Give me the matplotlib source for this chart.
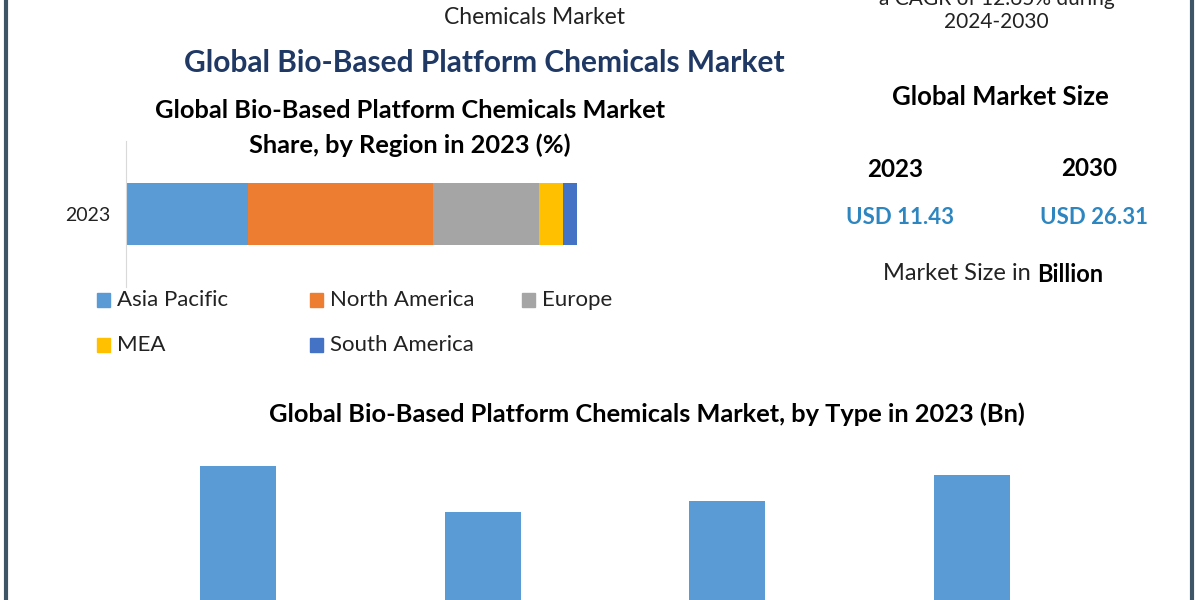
import matplotlib.pyplot as plt
from matplotlib.patches import Rectangle

# region share 2023 (%)
regions = ['Asia Pacific', 'North America', 'Europe', 'MEA', 'South America']
region_share = [27.1, 41.0, 23.5, 5.3, 3.1]
region_colors = ['#5b9bd5', '#ed7d31', '#a5a5a5', '#ffc000', '#4472c4']

# market by type 2023 (Bn) - category names cut off in the picture
type_values = [3.16, 2.54, 2.69, 3.04]

size_years = ['2023', '2030']
size_values = [11.43, 26.31]

W, H = 1200, 600
plt.rcParams['font.family'] = ['Lato', 'DejaVu Sans']

fig = plt.figure(figsize=(12, 6), dpi=100)
fig.patch.set_facecolor('white')


def fx(x):
    return x / W


def fy(y):
    return 1 - y / H


def txt(x, y, s, **kw):
    fig.text(fx(x), fy(y), s, ha='center', va='center', **kw)


# frame lines on the sides
fig.add_artist(plt.Line2D([fx(5.5), fx(5.5)], [0, 1], color='#3d5566', lw=3))
fig.add_artist(plt.Line2D([fx(1191.5), fx(1191.5)], [0, 1], color='#3d5566', lw=3))

# header texts (partly cut at the top, as in the source)
txt(997, -1, 'a CAGR of 12.65% during', fontsize=15, color='#222222')
txt(996, 22, '2024-2030', fontsize=15, color='#222222')
txt(535, 17, 'Chemicals Market', fontsize=16.5, color='#222222')
txt(484, 63, 'Global Bio-Based Platform Chemicals Market', fontsize=21.5,
    fontweight='bold', color='#1f3864')

# stacked bar by region
txt(410, 110, 'Global Bio-Based Platform Chemicals Market', fontsize=18.3,
    fontweight='bold', color='black')
txt(410, 145, 'Share, by Region in 2023 (%)', fontsize=18.3,
    fontweight='bold', color='black')

ax1 = fig.add_axes([fx(126), fy(287), fx(620 - 126), (287 - 141) / H])
left = 0
for name, val, col in zip(regions, region_share, region_colors):
    ax1.barh([0], [val], left=left, height=0.425, color=col, label=name)
    left += val
ax1.set_xlim(0, (620 - 126) / 4.51)
ax1.set_ylim(-0.5, 0.5)
ax1.set_xticks([])
ax1.set_yticks([0], ['2023'], fontsize=14)
ax1.tick_params(axis='y', length=0, pad=11, labelcolor='#222222')
for s in ['top', 'right', 'bottom']:
    ax1.spines[s].set_visible(False)
ax1.spines['left'].set_color('#d9d9d9')
ax1.patch.set_alpha(0)

# legend drawn by hand to keep the even column spacing
leg_pos = [(97, 300), (310, 300), (522, 300), (97, 345), (310, 345)]
for (x, y), name, col in zip(leg_pos, regions, region_colors):
    fig.add_artist(Rectangle((fx(x), fy(y + 7)), 13 / W, 14 / H, color=col,
                             transform=fig.transFigure))
    fig.text(fx(x + 20), fy(y), name, ha='left', va='center', fontsize=16,
             color='#222222')

# market size panel
txt(1000, 97, 'Global Market Size', fontsize=18.5, fontweight='bold', color='black')
for yr, val, x, y in zip(size_years, size_values, [895, 1089], [169, 168]):
    txt(x, y, yr, fontsize=17.5, fontweight='bold', color='black')
    txt(x + 5, y + 49, 'USD %.2f' % val, fontsize=16, fontweight='bold',
        color='#2e86c1')
fig.text(fx(1037), fy(274), 'Market Size in ', ha='right', va='center',
         fontsize=17, color='#222222')
fig.text(fx(1037), fy(274), 'Billion', ha='left', va='center',
         fontsize=17, fontweight='bold', color='black')

# bar chart by type (cut at the bottom)
txt(647, 414, 'Global Bio-Based Platform Chemicals Market, by Type in 2023 (Bn)',
    fontsize=18.3, fontweight='bold', color='black')

ax2 = fig.add_axes([fx(116), fy(700), fx(1094 - 116), 259.4 / H])
ax2.bar(range(len(type_values)), type_values, width=0.31, color='#5b9bd5')
ax2.set_xlim(-0.5, len(type_values) - 0.5)
ax2.set_ylim(0, 3.5)
ax2.axis('off')

fig.savefig('out.png', dpi=100)
